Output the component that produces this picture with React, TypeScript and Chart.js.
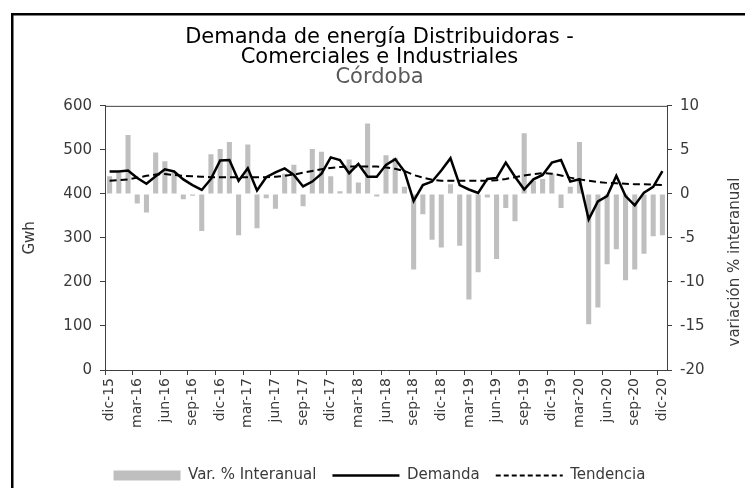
import React, { useEffect, useRef } from 'react';
import { Chart, registerables } from 'chart.js';

Chart.register(...registerables);

const months = [
  'dic-15',
  'ene-16','feb-16','mar-16','abr-16','may-16','jun-16','jul-16','ago-16','sep-16','oct-16','nov-16','dic-16',
  'ene-17','feb-17','mar-17','abr-17','may-17','jun-17','jul-17','ago-17','sep-17','oct-17','nov-17','dic-17',
  'ene-18','feb-18','mar-18','abr-18','may-18','jun-18','jul-18','ago-18','sep-18','oct-18','nov-18','dic-18',
  'ene-19','feb-19','mar-19','abr-19','may-19','jun-19','jul-19','ago-19','sep-19','oct-19','nov-19','dic-19',
  'ene-20','feb-20','mar-20','abr-20','may-20','jun-20','jul-20','ago-20','sep-20','oct-20','nov-20','dic-20',
];

const varInteranual = [
  2.0, 2.4, 6.7, -1.1, -2.1, 4.7, 3.7, 2.4, -0.6, -0.2,
  -4.2, 4.5, 5.1, 5.9, -4.7, 5.6, -3.9, -0.5, -1.7, 2.3,
  3.3, -1.4, 5.1, 4.8, 2.0, 0.3, 3.9, 1.3, 8.0, -0.3,
  4.4, 4.1, 0.8, -8.6, -2.3, -5.2, -6.1, 1.1, -5.9, -12.0,
  -8.9, -0.4, -7.4, -1.6, -3.1, 6.9, 1.5, 1.7, 2.3, -1.6,
  0.8, 5.9, -14.8, -12.9, -8.0, -6.3, -9.8, -8.6, -6.8, -4.8, -4.7,
];

const demanda = [
  451, 451, 453, 436, 423, 440, 456, 451, 433, 420,
  409, 434, 476, 477, 430, 458, 408, 438, 449, 458,
  443, 417, 428, 446, 483, 477, 447, 468, 439, 439,
  466, 479, 451, 384, 420, 428, 453, 481, 420, 410,
  402, 434, 436, 471, 439, 410, 433, 443, 471, 477,
  428, 433, 342, 383, 395, 441, 395, 374, 403, 416, 452,
];

const tendencia = [
  430, 431, 433, 437, 441, 444, 445, 443, 441, 440,
  439, 438, 438, 438, 438, 438, 438, 438, 439, 441,
  444, 448, 452, 456, 459, 461, 462, 462, 462, 462,
  460, 457, 452, 443, 437, 432, 430, 430, 430, 430,
  430, 430, 431, 434, 438, 442, 445, 447, 446, 442,
  437, 433, 430, 427, 425, 424, 423, 422, 422, 421, 420,
];

const leftTicks = { min: 0, max: 600, step: 100 };
const rightTicks = { min: -20, max: 10, step: 5 };

const FONT = '"DejaVu Sans"';
const AXIS_COLOR = '#404040';
const TEXT_COLOR = '#3a3a3a';

const framePlugin = {
  id: 'frame',
  beforeDraw(chart: any) {
    const ctx = chart.ctx;
    ctx.save();
    ctx.fillStyle = '#ffffff';
    ctx.fillRect(0, 0, chart.width, chart.height);
    ctx.fillStyle = '#000000';
    ctx.fillRect(11, 13, 2.5, chart.height);
    ctx.fillRect(11, 13, chart.width, 2.5);
    ctx.restore();
  },
  afterDraw(chart: any) {
    const ctx = chart.ctx;
    const a = chart.chartArea;
    ctx.save();
    ctx.strokeStyle = AXIS_COLOR;
    ctx.lineWidth = 1;
    ctx.beginPath();
    ctx.moveTo(a.left, a.top + 0.5);
    ctx.lineTo(a.right, a.top + 0.5);
    ctx.stroke();
    ctx.translate(735, 262);
    ctx.rotate(-Math.PI / 2);
    ctx.textAlign = 'center';
    ctx.textBaseline = 'middle';
    ctx.font = `15px ${FONT}`;
    ctx.fillStyle = TEXT_COLOR;
    ctx.fillText('variación % interanual', 0, 0);
    ctx.restore();
  },
};

export default function App() {
  const ref = useRef<HTMLCanvasElement | null>(null);

  useEffect(() => {
    if (!ref.current) return;
    const chart = new Chart(ref.current, {
      type: 'bar',
      data: {
        labels: months,
        datasets: [
          {
            type: 'line',
            label: 'Demanda',
            data: demanda,
            yAxisID: 'y',
            borderColor: '#000000',
            backgroundColor: '#000000',
            borderWidth: 2.5,
            pointRadius: 0,
            tension: 0,
            order: 1,
          } as any,
          {
            type: 'line',
            label: 'Tendencia',
            data: tendencia,
            yAxisID: 'y',
            borderColor: '#000000',
            backgroundColor: '#000000',
            borderWidth: 2,
            borderDash: [7, 4],
            pointRadius: 0,
            tension: 0,
            order: 2,
          } as any,
          {
            type: 'bar',
            label: 'Var. % Interanual',
            data: varInteranual,
            yAxisID: 'y1',
            backgroundColor: '#BFBFBF',
            borderWidth: 0,
            barPercentage: 0.55,
            categoryPercentage: 1.0,
            order: 3,
          } as any,
        ],
      },
      options: {
        animation: false,
        responsive: false,
        devicePixelRatio: 1,
        layout: { padding: { left: 14, top: 14, right: 0, bottom: 0 } },
        plugins: {
          title: {
            display: true,
            text: ['Demanda de energía Distribuidoras -', 'Comerciales e Industriales'],
            color: '#000000',
            font: { family: FONT, size: 21, weight: 'normal', lineHeight: 0.95 },
            padding: { top: 14, bottom: 0 },
          },
          subtitle: {
            display: true,
            text: 'Córdoba',
            color: '#595959',
            font: { family: FONT, size: 21, weight: 'normal', lineHeight: 0.95 },
            padding: { top: 0, bottom: 18 },
          },
          legend: {
            display: true,
            position: 'bottom',
            labels: {
              usePointStyle: true,
              pointStyleWidth: 67,
              boxHeight: 10,
              padding: 16,
              color: TEXT_COLOR,
              font: { family: FONT, size: 15 },
              generateLabels: () => [
                {
                  text: 'Var. % Interanual',
                  fillStyle: '#BFBFBF',
                  strokeStyle: 'rgba(0,0,0,0)',
                  lineWidth: 0,
                  pointStyle: 'rect',
                  hidden: false,
                  datasetIndex: 2,
                  fontColor: TEXT_COLOR,
                },
                {
                  text: 'Demanda',
                  fillStyle: '#000000',
                  strokeStyle: '#000000',
                  lineWidth: 2.5,
                  pointStyle: 'line',
                  hidden: false,
                  datasetIndex: 0,
                  fontColor: TEXT_COLOR,
                },
                {
                  text: 'Tendencia',
                  fillStyle: '#000000',
                  strokeStyle: '#000000',
                  lineWidth: 2,
                  lineDash: [5, 3],
                  pointStyle: 'line',
                  hidden: false,
                  datasetIndex: 1,
                  fontColor: TEXT_COLOR,
                },
              ],
            },
          },
          tooltip: { enabled: false },
        },
        scales: {
          x: {
            offset: true,
            afterFit: (s: any) => { s.height = 82; },
            grid: {
              offset: true,
              drawOnChartArea: false,
              drawTicks: true,
              tickLength: 5,
              color: (c: any) => (typeof c.index === 'number' && c.index % 3 === 0 ? AXIS_COLOR : 'rgba(0,0,0,0)'),
            },
            border: { display: true, color: AXIS_COLOR, width: 1 },
            ticks: {
              autoSkip: false,
              maxRotation: 90,
              minRotation: 90,
              padding: 3,
              color: TEXT_COLOR,
              font: { family: FONT, size: 14 },
              callback: (_v: any, i: number) => (i % 3 === 0 ? months[i] : ''),
            },
          },
          y: {
            position: 'left',
            min: leftTicks.min,
            max: leftTicks.max,
            afterFit: (s: any) => { s.width = 91; },
            grid: { drawOnChartArea: false, drawTicks: true, tickLength: 5, color: AXIS_COLOR },
            border: { display: true, color: AXIS_COLOR, width: 1 },
            ticks: {
              stepSize: leftTicks.step,
              padding: 8,
              color: TEXT_COLOR,
              font: { family: FONT, size: 15 },
            },
            title: {
              display: true,
              text: 'Gwh',
              color: TEXT_COLOR,
              font: { family: FONT, size: 15 },
              padding: { top: 7, bottom: 0 },
            },
          },
          y1: {
            position: 'right',
            min: rightTicks.min,
            max: rightTicks.max,
            afterFit: (s: any) => { s.width = 78; },
            grid: { drawOnChartArea: false, drawTicks: true, tickLength: 5, color: AXIS_COLOR },
            border: { display: true, color: AXIS_COLOR, width: 1 },
            ticks: {
              stepSize: rightTicks.step,
              padding: 8,
              color: TEXT_COLOR,
              font: { family: FONT, size: 15 },
            },
          },
        },
      } as any,
      plugins: [framePlugin],
    });
    return () => chart.destroy();
  }, []);

  return (
    <div
      style={{
        position: 'fixed',
        left: 0,
        top: 0,
        width: 745,
        height: 488,
        overflow: 'hidden',
        background: '#ffffff',
      }}
    >
      <canvas ref={ref} width={745} height={493} style={{ display: 'block', width: 745, height: 493 }} />
    </div>
  );
}
